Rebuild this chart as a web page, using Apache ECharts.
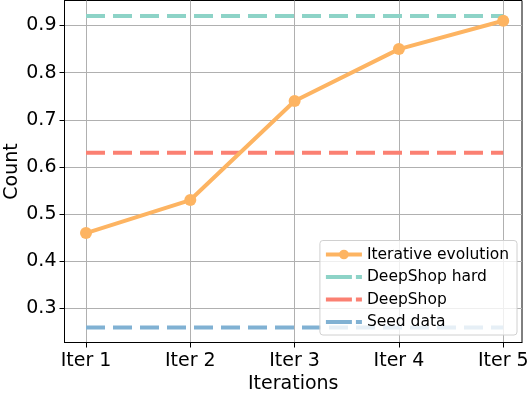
<!DOCTYPE html>
<html>
<head>
<meta charset="utf-8">
<script src="https://cdn.jsdelivr.net/npm/echarts@6/dist/echarts.min.js"></script>
<style>
  html, body { margin: 0; padding: 0; background: #fff; }
  #chart { width: 532px; height: 395px; }
</style>
</head>
<body>
<div id="chart"></div>
<script>
// data
const iterLabels = ['Iter 1', 'Iter 2', 'Iter 3', 'Iter 4', 'Iter 5'];
const iterative = [0.46, 0.53, 0.74, 0.85, 0.91];
const deepShopHard = 0.92;
const deepShop = 0.63;
const seedData = 0.26;
const yTicks = [0.3, 0.4, 0.5, 0.6, 0.7, 0.8, 0.9];

const FONT = 'DejaVu Sans';
const COLORS = {
  iter: '#FDB462',
  hard: '#8DD3C7',
  shop: '#FB8072',
  seed: '#80B1D3'
};

const xs = iterLabels.map((_, i) => i + 1);
const pairs = (vals) => xs.map((x, i) => [x, vals[i]]);
const flat = (v) => pairs(xs.map(() => v));

function dashed(name, value, color) {
  return {
    name: name,
    type: 'line',
    data: flat(value),
    symbol: 'none',
    silent: true,
    lineStyle: {color: color, width: 4, type: [19, 8]},
    itemStyle: {color: color}
  };
}

function dashedLegend(name) {
  // legend sample: long dash then a short stub, no marker
  return {name: name, itemStyle: {opacity: 0}, lineStyle: {width: 4, type: [26, 4]}};
}

let chart = echarts.init(document.getElementById('chart'), null, {renderer: 'canvas'});

chart.setOption({
  animation: false,
  textStyle: {fontFamily: FONT},
  grid: {
    left: 64.5, right: 10, top: 0.5, bottom: 52.5,
    show: true, borderColor: '#000', borderWidth: 1,
    containLabel: false,
    outerBoundsMode: 'none'
  },
  xAxis: {
    type: 'value',
    min: 0.794,
    max: 5.18,
    name: 'Iterations',
    nameLocation: 'middle',
    nameGap: 32,
    nameMoveOverlap: false,
    nameTextStyle: {fontSize: 19, color: '#000', fontFamily: FONT},
    axisLine: {lineStyle: {color: '#000', width: 1}},
    axisTick: {show: true, inside: false, length: 5, lineStyle: {color: '#000'}, customValues: xs},
    axisLabel: {
      color: '#000', fontSize: 19, fontFamily: FONT, margin: 9,
      customValues: xs,
      formatter: (v) => iterLabels[Math.round(v) - 1]
    },
    splitLine: {show: true, lineStyle: {color: '#b0b0b0', width: 1}}
  },
  yAxis: {
    type: 'value',
    min: 0.228,
    max: 0.953,
    name: 'Count',
    nameLocation: 'middle',
    nameGap: 43,
    nameMoveOverlap: false,
    nameTextStyle: {fontSize: 19, color: '#000', fontFamily: FONT},
    axisLine: {show: true, lineStyle: {color: '#000', width: 1}},
    axisTick: {show: true, inside: false, length: 5, lineStyle: {color: '#000'}, customValues: yTicks},
    axisLabel: {
      color: '#000', fontSize: 19, fontFamily: FONT, margin: 8,
      customValues: yTicks,
      formatter: (v) => v.toFixed(1)
    },
    splitLine: {show: true, lineStyle: {color: '#b0b0b0', width: 1}}
  },
  legend: {
    right: 15,
    bottom: 60,
    orient: 'vertical',
    itemWidth: 36,
    itemHeight: 12,
    itemGap: 6.5,
    padding: [6, 8, 5, 4],
    backgroundColor: 'rgba(255,255,255,0.8)',
    borderColor: '#d0d0d0',
    borderWidth: 1,
    borderRadius: 3,
    textStyle: {fontSize: 15.5, color: '#000', fontFamily: FONT},
    data: [
      {name: 'Iterative evolution', lineStyle: {width: 4}},
      dashedLegend('DeepShop hard'),
      dashedLegend('DeepShop'),
      dashedLegend('Seed data')
    ]
  },
  series: [
    dashed('DeepShop hard', deepShopHard, COLORS.hard),
    dashed('DeepShop', deepShop, COLORS.shop),
    dashed('Seed data', seedData, COLORS.seed),
    {
      name: 'Iterative evolution',
      type: 'line',
      data: pairs(iterative),
      symbol: 'circle',
      symbolSize: 12,
      z: 5,
      lineStyle: {color: COLORS.iter, width: 4},
      itemStyle: {color: COLORS.iter}
    }
  ]
});
</script>
</body>
</html>
